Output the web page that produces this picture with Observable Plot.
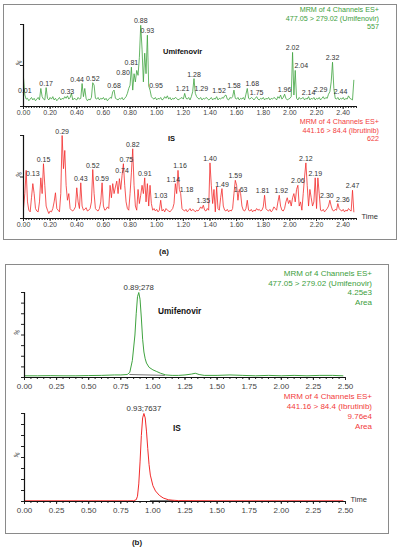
<!DOCTYPE html>
<html><head><meta charset="utf-8">
<script src="https://cdn.jsdelivr.net/npm/d3@7"></script>
<script src="https://cdn.jsdelivr.net/npm/@observablehq/plot@0.6"></script>
<style>
body{margin:0;background:#fff}
#root{position:relative;width:398px;height:550px;font-family:"Liberation Sans",Arial,sans-serif;overflow:hidden;background:#fff}
.box{position:absolute;border:1px solid #8a8a8a;box-sizing:border-box}
.t{position:absolute;white-space:nowrap;line-height:1}
</style></head><body><div id="root"></div>
<script>
// ---------- DATA ----------
// Panel (a) top: Umifenovir noise trace, sampled every 0.01 min from 0.00 to 2.48 (% relative)
const aUmiValues = [
35,14,9,10,7,9,11,8,10,7,
9,11,8,22,12,9,8,23,10,8,
11,9,12,8,10,7,9,11,8,10,
9,12,10,13,9,11,16,8,10,9,
8,11,9,10,28,12,22,10,7,9,
8,11,29,26,10,9,11,8,10,9,
11,8,10,7,9,11,10,18,20,10,
9,8,10,9,11,8,10,12,16,22,
26,48,20,40,30,44,38,60,99,70,
30,65,40,87,25,20,12,10,9,11,
8,10,9,11,8,9,12,10,13,9,
11,8,10,9,11,10,8,9,10,11,
9,16,10,9,11,8,12,18,34,16,
12,10,9,11,8,10,9,11,10,8,
9,11,8,10,9,12,8,10,9,11,
10,13,14,9,8,11,10,12,20,10,
9,11,8,10,9,11,8,15,22,10,
9,11,10,8,10,12,9,8,10,9,
11,8,10,9,11,8,10,9,11,10,
8,12,10,14,9,11,15,10,8,9,
10,12,66,14,44,10,8,11,9,10,
11,8,10,9,12,8,10,9,11,8,
10,9,11,8,10,12,9,11,10,15,
18,30,54,22,10,9,11,8,10,9,
11,8,10,9,13,10,9,8,32];
// Panel (a) bottom: IS (Ibrutinib) noise trace, same sampling
const aISValues = [
12,30,58,20,10,8,25,42,30,12,
9,8,20,49,30,66,40,15,10,6,
9,8,12,20,31,12,10,8,30,100,
60,82,40,22,30,12,10,9,11,14,
37,20,12,43,15,10,11,13,9,10,
12,20,59,30,12,10,9,12,20,43,
15,10,11,14,12,40,25,42,30,38,
45,30,48,35,52,66,40,20,12,10,
30,55,84,40,15,10,35,18,28,40,
30,49,20,42,15,40,18,10,12,9,
11,8,10,22,9,11,8,12,10,9,
8,10,12,18,42,30,58,35,30,12,
10,9,11,8,10,12,9,11,10,8,
10,9,11,14,12,16,10,9,12,10,
67,40,18,35,8,38,12,10,25,36,
15,10,9,11,8,10,9,12,30,46,
40,22,35,30,15,10,9,12,22,10,
9,11,8,10,9,12,10,11,9,10,
14,28,12,10,9,11,8,10,14,12,
10,20,28,15,10,9,12,20,25,18,
22,15,25,30,20,35,40,15,20,10,
30,50,67,40,15,35,25,15,20,49,
12,49,30,10,9,11,8,10,12,15,
22,15,10,9,11,10,18,12,10,9,
11,8,10,9,12,10,9,34,8];
const aStart = 0, aStep = 0.01;
const aUmiLabels = [0.01,0.17,0.33,0.44,0.52,0.68,0.80,0.81,0.88,0.93,0.95,1.21,1.28,1.29,1.52,1.58,1.68,1.75,1.96,2.02,2.04,2.14,2.29,2.32,2.44];
const aISLabels = [0.13,0.15,0.29,0.43,0.52,0.59,0.74,0.75,0.82,0.91,1.03,1.14,1.16,1.18,1.35,1.40,1.49,1.59,1.63,1.81,1.92,2.06,2.12,2.19,2.30,2.36,2.47];
const aMajorTicks = [0,0.2,0.4,0.6,0.8,1.0,1.2,1.4,1.6,1.8,2.0,2.2,2.4];

// Panel (b) top: Umifenovir peak
const bUmiTimes = [0,0.1,0.2,0.3,0.4,0.5,0.6,0.7,0.75,0.8,0.82,0.84,0.86,0.87,0.88,0.89,0.90,0.91,0.92,0.93,0.94,0.95,0.97,1.0,1.03,1.06,1.1,1.15,1.2,1.25,1.3,1.33,1.36,1.4,1.5,1.6,1.7,1.8,1.9,2.0,2.1,2.2,2.3,2.4,2.48];
const bUmiValues = [2,2,2.2,2,2,2.3,2.5,3,3,3.5,6,20,50,75,95,100,92,70,45,30,22,17,12,9,7,5,3,2.5,2.5,3,4,5,3.5,2.5,2.5,3,2.5,2,2.5,2,2.5,2,2.5,2.5,2];
const bUmiBaseTimes = [0.82,1.09];
const bUmiBaseValues = [3.5,2.5];
const bUmiPeak = {time: 0.89, value: 100, text: "0.89;278"};
// Panel (b) bottom: IS peak
const bISTimes = [0,0.5,0.8,0.85,0.87,0.88,0.89,0.90,0.91,0.92,0.93,0.94,0.95,0.96,0.97,0.98,1.0,1.02,1.05,1.08,1.12,1.15,1.2,1.5,2.0,2.48];
const bISValues = [0.8,0.8,0.8,0.9,2,6,20,45,75,95,100,95,80,60,42,30,18,12,7,4,2,1.5,1,0.8,0.8,0.8];
const bISBaseTimes = [0.98,1.16];
const bISBaseValues = [0.8,0.8];
const bISPeak = {time: 0.93, value: 100, text: "0.93;7637"};
const bMajorTicks = [0,0.25,0.5,0.75,1.0,1.25,1.5,1.75,2.0,2.25,2.5];

// ---------- DRAWING ----------
const root = document.getElementById("root");
const GREEN = "#3fa33f", RED = "#f22b2b", GREEN_T = "#3c9e3c", RED_T = "#f23c3c";
const FONT = "Liberation Sans, Arial, sans-serif";
// pixel nudges for peak labels that the instrument software displaced
const labelNudge = {"0.44": -5, "0.80": -7, "0.95": 6, "1.21": -2, "1.29": 6, "1.52": -7, "1.68": 5, "2.04": 6, "2.29": -8, "2.44": -8,
  "0.13": -8, "0.75": 3, "1.14": -2, "1.16": 2, "1.18": 6, "2.30": -3, "2.36": 5, "1.81": -2, "1.92": 2};
const labelLift = {"0.80": -8};

function addBox(l, t, r, b) {
  const d = document.createElement("div");
  d.className = "box";
  Object.assign(d.style, {left: l + "px", top: t + "px", width: (r - l) + "px", height: (b - t) + "px"});
  root.appendChild(d);
}
function addText(txt, x, y, {anchor = "end", size = 7.2, color = "#222", bold = false} = {}) {
  const d = document.createElement("div");
  d.className = "t";
  d.textContent = txt;
  const tx = anchor === "end" ? "-100%" : anchor === "middle" ? "-50%" : "0";
  Object.assign(d.style, {left: x + "px", top: y + "px", fontSize: size + "px", color, fontWeight: bold ? "bold" : "normal", transform: `translate(${tx},-50%)`});
  root.appendChild(d);
}

function panel(o) {
  const idx = d3.range(o.t.length);
  const marks = [
    Plot.axisX({ticks: o.minors, tickSize: 2, tickFormat: () => "", stroke: "#222", label: null}),
    Plot.axisX({ticks: o.majors, tickSize: 3, tickPadding: o.pad, tickFormat: d3.format(".2f"), fontSize: o.fs, fill: "#444", stroke: "#222", label: null}),
    Plot.axisY({ticks: o.yTicks, tickSize: 3, tickFormat: () => "", stroke: "#222", label: null}),
    Plot.text(["%"], {frameAnchor: "left", dx: o.pctDx, rotate: -60, fontSize: 6.5, fill: "#333"}),
  ];
  if (o.base) marks.push(Plot.line(d3.range(o.base.t.length), {x: i => o.base.t[i], y: i => o.base.v[i], stroke: o.base.color, strokeWidth: 1}));
  marks.push(Plot.line(idx, {x: i => o.t[i], y: i => o.v[i], stroke: o.color, strokeWidth: o.sw, strokeLinejoin: "miter"}));
  marks.push(Plot.ruleY([0], {stroke: "#111", strokeWidth: 1.2}));
  marks.push(Plot.ruleX([0], {stroke: "#111", strokeWidth: 1.2}));
  if (o.labels) for (const d of o.labels) {
    const key = d.toFixed(2);
    marks.push(Plot.text([d], {x: d => d, y: d => o.v[Math.round((d - aStart) / aStep)], text: d => d.toFixed(2),
      dx: labelNudge[key] || 0, dy: -2 + (labelLift[key] || 0), lineAnchor: "bottom", fontSize: 7, fill: "#333"}));
  }
  if (o.peak) marks.push(Plot.text([o.peak], {x: "time", y: "value", text: "text", dy: -3, lineAnchor: "bottom", fontSize: 7.8, fill: "#333"}));
  if (o.time) marks.push(Plot.text(["Time"], {frameAnchor: "bottom-right", textAnchor: "start", dx: 5, fontSize: 7.5, fill: "#333"}));
  const svg = Plot.plot({
    width: 398, height: o.height,
    marginTop: o.mt, marginBottom: o.mb, marginLeft: o.ml, marginRight: o.mr,
    x: {domain: [0, 2.5]}, y: {domain: [0, 100]},
    style: {background: "transparent", fontFamily: FONT, overflow: "visible"},
    marks
  });
  svg.style.position = "absolute";
  svg.style.left = "0px";
  svg.style.top = o.top + "px";
  root.appendChild(svg);
}

const aTimes = d3.range(aUmiValues.length).map(i => +(aStart + i * aStep).toFixed(2));
const aMinors = d3.range(0, 126).map(i => i * 0.02);
const bMinors = d3.range(0, 51).map(i => i * 0.05);

addBox(3, 4, 397, 240);
addBox(5, 264, 389, 534);

panel({top: 0, height: 120, mt: 24, mb: 14, ml: 23, mr: 42, t: aTimes, v: aUmiValues, color: GREEN, sw: 0.8,
  labels: aUmiLabels, majors: aMajorTicks, minors: aMinors, fs: 7, pad: 1, yTicks: [0, 50, 100], pctDx: -6});
panel({top: 115, height: 120, mt: 20, mb: 17, ml: 23, mr: 42, t: aTimes, v: aISValues, color: RED, sw: 0.8,
  labels: aISLabels, majors: aMajorTicks, minors: aMinors, fs: 7, pad: 1, yTicks: [0, 50, 100], pctDx: -6, time: true});
panel({top: 270, height: 125, mt: 22, mb: 18, ml: 24, mr: 53, t: bUmiTimes, v: bUmiValues, color: GREEN, sw: 1,
  base: {t: bUmiBaseTimes, v: bUmiBaseValues, color: "#777"}, peak: bUmiPeak,
  majors: bMajorTicks, minors: bMinors, fs: 8, pad: 3, yTicks: [0,12.5,25,37.5,50,62.5,75,87.5,100], pctDx: -9});
panel({top: 395, height: 125, mt: 18, mb: 19, ml: 24, mr: 53, t: bISTimes, v: bISValues, color: RED, sw: 1,
  base: {t: bISBaseTimes, v: bISBaseValues, color: "#444"}, peak: bISPeak,
  majors: bMajorTicks, minors: bMinors, fs: 8, pad: 3, yTicks: [0,12.5,25,37.5,50,62.5,75,87.5,100], pctDx: -9, time: true});

// annotations
addText("MRM of 4 Channels ES+", 379, 10, {color: GREEN_T});
addText("477.05 > 279.02 (Umifenovir)", 379, 18.5, {color: GREEN_T});
addText("557", 379, 27, {color: GREEN_T});
addText("MRM of 4 Channels ES+", 379, 122, {color: RED_T});
addText("441.16 > 84.4 (Ibrutinib)", 379, 130.5, {color: RED_T});
addText("622", 379, 139, {color: RED_T});
addText("Umifenovir", 163, 52, {anchor: "start", size: 7.5, bold: true, color: "#111"});
addText("IS", 168, 139, {anchor: "start", size: 7.5, bold: true, color: "#111"});
addText("(a)", 164, 252, {anchor: "middle", size: 8, bold: true, color: "#222"});

addText("MRM of 4 Channels ES+", 372, 274, {color: GREEN_T, size: 8});
addText("477.05 > 279.02 (Umifenovir)", 372, 284, {color: GREEN_T, size: 8});
addText("4.25e3", 372, 293, {color: GREEN_T, size: 8});
addText("Area", 372, 302.5, {color: GREEN_T, size: 8});
addText("MRM of 4 Channels ES+", 372, 397, {color: RED_T, size: 8});
addText("441.16 > 84.4 (Ibrutinib)", 372, 407, {color: RED_T, size: 8});
addText("9.76e4", 372, 417, {color: RED_T, size: 8});
addText("Area", 372, 426.5, {color: RED_T, size: 8});
addText("Umifenovir", 158, 311, {anchor: "start", size: 8.3, bold: true, color: "#111"});
addText("IS", 173, 428, {anchor: "start", size: 8.3, bold: true, color: "#111"});
addText("(b)", 137, 543, {anchor: "middle", size: 8, bold: true, color: "#222"});
</script></body></html>
